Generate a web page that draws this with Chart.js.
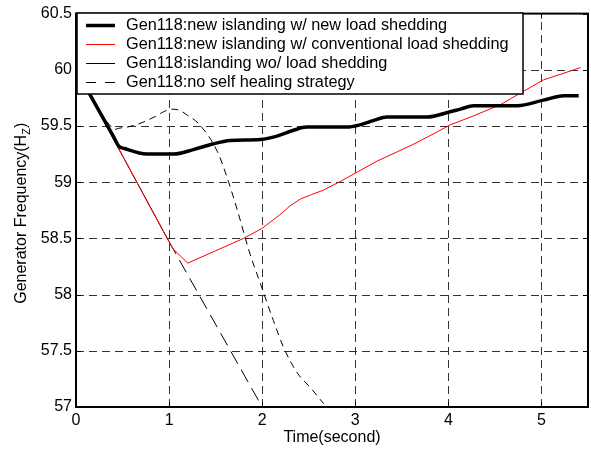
<!DOCTYPE html>
<html><head><meta charset="utf-8">
<script src="https://cdn.jsdelivr.net/npm/chart.js@4"></script>
<style>html,body{margin:0;padding:0;background:#fff}canvas{display:block}</style>
</head><body>
<canvas id="c" width="591" height="450"></canvas>
<script>
// ---- data ----
const seriesNames = [
  'Gen118:new islanding w/ new load shedding',
  'Gen118:new islanding w/ conventional load shedding',
  'Gen118:islanding wo/ load shedding',
  'Gen118:no self healing strategy'
];
const newLsT = [0, 0.40, 0.46, 0.52, 0.76, 1.05, 1.26, 1.47, 1.66, 1.98, 2.16, 2.33, 2.48, 2.91, 3.05, 3.2, 3.34, 3.77, 3.99, 4.13, 4.27, 4.74, 5.02, 5.24, 5.4];
const newLsV = [60.0, 59.41, 59.32, 59.30, 59.25, 59.25, 59.29, 59.34, 59.37, 59.38, 59.41, 59.46, 59.49, 59.49, 59.51, 59.55, 59.58, 59.58, 59.62, 59.65, 59.68, 59.68, 59.73, 59.77, 59.77];
const convLsT = [0, 1.0, 1.04, 1.2, 1.5, 1.8, 2.0, 2.19, 2.3, 2.41, 2.53, 2.66, 2.87, 3.02, 3.24, 3.45, 3.63, 3.84, 4.02, 4.27, 4.56, 4.81, 5.02, 5.24, 5.42];
const convLsV = [60.0, 58.47, 58.41, 58.28, 58.39, 58.5, 58.59, 58.71, 58.79, 58.85, 58.89, 58.93, 59.02, 59.09, 59.19, 59.27, 59.34, 59.43, 59.51, 59.59, 59.69, 59.81, 59.91, 59.97, 60.02];
const noLsT = [0, 1.0, 2.0];
const noLsV = [60.0, 58.47, 57.0];
const noHealT = [0, 0.35, 0.42, 0.46, 0.55, 0.71, 0.84, 0.95, 1.03, 1.11, 1.19, 1.33, 1.52, 1.64, 1.73, 1.87, 1.98, 2.12, 2.23, 2.38, 2.52, 2.66];
const noHealV = [60.0, 59.52, 59.47, 59.48, 59.49, 59.53, 59.58, 59.63, 59.65, 59.64, 59.6, 59.51, 59.27, 59.0, 58.76, 58.36, 58.1, 57.77, 57.53, 57.3, 57.17, 57.03];
const xTicks = [0, 1, 2, 3, 4, 5];
const yTicks = [57, 57.5, 58, 58.5, 59, 59.5, 60, 60.5];
const xTitle = 'Time(second)';
const yTitleMain = 'Generator Frequency(H';
const yTitleSub = 'Z';
const yTitleEnd = ')';

const FONT = '"Liberation Sans", Arial, Helvetica, sans-serif';
const pts = (t, v) => t.map((x, i) => ({x, y: v[i]}));

const styles = [
  {color: '#000', width: 3.5, dash: [], smooth: true},
  {color: '#ff0000', width: 1, dash: [], smooth: false},
  {color: '#000', width: 1, dash: [], smooth: false},
  {color: '#000', width: 1, dash: [7, 5], smooth: true}
];

const framePlugin = {
  id: 'frame',
  beforeDatasetsDraw(chart) {
    const {ctx, chartArea: a, scales: {x, y}} = chart;
    ctx.save();
    ctx.strokeStyle = '#333';
    ctx.lineWidth = 1;
    ctx.setLineDash([8, 5]);
    xTicks.forEach(v => {
      if (v === 0) return;
      const px = Math.round(x.getPixelForValue(v)) + 0.5;
      ctx.beginPath(); ctx.moveTo(px, a.bottom); ctx.lineTo(px, a.top); ctx.stroke();
    });
    yTicks.forEach(v => {
      if (v === 57 || v === 60.5) return;
      const py = Math.round(y.getPixelForValue(v)) + 0.5;
      ctx.beginPath(); ctx.moveTo(a.left, py); ctx.lineTo(a.right, py); ctx.stroke();
    });
    ctx.setLineDash([]);
    ctx.strokeStyle = '#000';
    xTicks.forEach(v => {
      const px = Math.round(x.getPixelForValue(v)) + 0.5;
      ctx.beginPath(); ctx.moveTo(px, a.bottom); ctx.lineTo(px, a.bottom - 5);
      ctx.moveTo(px, a.top); ctx.lineTo(px, a.top + 5); ctx.stroke();
    });
    yTicks.forEach(v => {
      const py = Math.round(y.getPixelForValue(v)) + 0.5;
      ctx.beginPath(); ctx.moveTo(a.left, py); ctx.lineTo(a.left + 5, py);
      ctx.moveTo(a.right, py); ctx.lineTo(a.right - 5, py); ctx.stroke();
    });
    ctx.restore();
  },
  afterDatasetsDraw(chart) {
    const {ctx, chartArea: a} = chart;
    ctx.save();
    // axes box
    ctx.strokeStyle = '#000';
    ctx.lineWidth = 2;
    ctx.strokeRect(a.left, a.top, a.right - a.left, a.bottom - a.top);
    // legend
    const lx = a.left + 1, ly = 13, lw = 446, lh = 81;
    ctx.fillStyle = '#fff';
    ctx.fillRect(lx, ly, lw, lh);
    ctx.lineWidth = 1.5;
    ctx.strokeRect(lx, ly, lw, lh);
    ctx.font = '16.3px ' + FONT;
    ctx.textBaseline = 'middle';
    ctx.fillStyle = '#000';
    seriesNames.forEach((name, i) => {
      const cy = 25 + i * 19;
      const s = styles[i];
      ctx.strokeStyle = s.color;
      ctx.lineWidth = s.width;
      ctx.setLineDash(i === 3 ? [10, 9] : []);
      ctx.beginPath(); ctx.moveTo(86, cy + 0.5); ctx.lineTo(115, cy + 0.5); ctx.stroke();
      ctx.setLineDash([]);
      ctx.fillText(name, 126, cy + 1);
    });
    // y axis title with subscript
    ctx.translate(20, (a.top + a.bottom) / 2 + 3);
    ctx.rotate(-Math.PI / 2);
    ctx.font = '16px ' + FONT;
    const w1 = ctx.measureText(yTitleMain).width;
    ctx.font = '11px ' + FONT;
    const w2 = ctx.measureText(yTitleSub).width;
    ctx.font = '16px ' + FONT;
    const w3 = ctx.measureText(yTitleEnd).width;
    let sx = -(w1 + w2 + w3) / 2;
    ctx.textBaseline = 'alphabetic';
    ctx.fillText(yTitleMain, sx, 6);
    ctx.font = '11px ' + FONT;
    ctx.fillText(yTitleSub, sx + w1, 10);
    ctx.font = '16px ' + FONT;
    ctx.fillText(yTitleEnd, sx + w1 + w2, 6);
    ctx.restore();
  }
};

new Chart(document.getElementById('c'), {
  type: 'line',
  data: {
    datasets: [
      {label: seriesNames[0], data: pts(newLsT, newLsV)},
      {label: seriesNames[1], data: pts(convLsT, convLsV)},
      {label: seriesNames[2], data: pts(noLsT, noLsV),
        segment: {borderDash: c => (c.p0.parsed.x >= 0.99 ? [14, 7] : undefined)}},
      {label: seriesNames[3], data: pts(noHealT, noHealV)}
    ].map((d, i) => Object.assign({
      borderColor: styles[i].color,
      borderWidth: styles[i].width,
      borderDash: styles[i].dash,
      borderJoinStyle: 'round',
      pointRadius: 0,
      fill: false,
      cubicInterpolationMode: styles[i].smooth ? 'monotone' : 'default',
      tension: 0
    }, d))
  },
  options: {
    responsive: false,
    animation: false,
    devicePixelRatio: 1,
    layout: {padding: {top: 10, right: 3, left: 0, bottom: 0}},
    plugins: {legend: {display: false}, tooltip: {enabled: false}},
    scales: {
      x: {
        type: 'linear', min: 0, max: 5.5,
        afterBuildTicks: s => { s.ticks = xTicks.map(v => ({value: v})); },
        afterFit: s => { s.height = 43; },
        grid: {display: false, drawTicks: false},
        border: {display: false},
        ticks: {color: '#000', padding: 4, font: {family: FONT, size: 16}, maxRotation: 0,
          callback: v => String(v)},
        title: {display: true, text: xTitle, color: '#000', font: {family: FONT, size: 16}, padding: {top: 0, bottom: 3}}
      },
      y: {
        type: 'linear', min: 57, max: 60.5,
        afterBuildTicks: s => { s.ticks = yTicks.map(v => ({value: v})); },
        afterFit: s => { s.width = 76; },
        grid: {display: false, drawTicks: false},
        border: {display: false},
        ticks: {color: '#000', padding: 4, font: {family: FONT, size: 16},
          callback: v => String(v)}
      }
    }
  },
  plugins: [framePlugin]
});
</script>
</body></html>
